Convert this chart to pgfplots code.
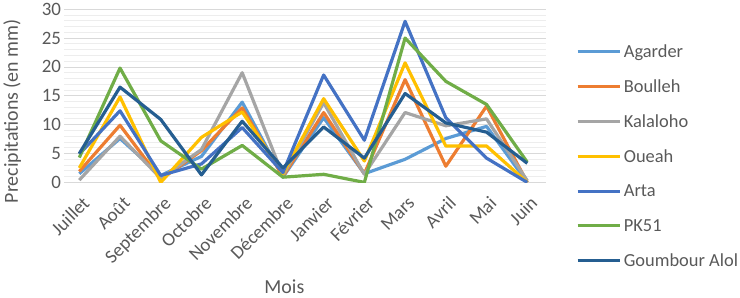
\documentclass[border=0pt]{standalone}
\usepackage{pgfplots}
\pgfplotsset{compat=1.18}
\usepackage{fontspec}
\setmainfont{Carlito}
\definecolor{cA}{HTML}{5B9BD5}
\definecolor{cB}{HTML}{ED7D31}
\definecolor{cC}{HTML}{A5A5A5}
\definecolor{cD}{HTML}{FFC000}
\definecolor{cE}{HTML}{4472C4}
\definecolor{cF}{HTML}{70AD47}
\definecolor{cG}{HTML}{255E91}
\definecolor{txt}{HTML}{595959}
\begin{document}
\begin{tikzpicture}[x=1pt,y=1pt]
\path (0,0) rectangle (740,295);
\begin{axis}[
  at={(63pt,115pt)}, anchor=south west,
  scale only axis, width=484pt, height=174pt,
  xmin=-0.37, xmax=11.46, ymin=0, ymax=30,
  xtick={0,...,11},
  xticklabels={Juillet,Août,Septembre,Octobre,Novembre,Décembre,Janvier,Février,Mars,Avril,Mai,Juin},
  ytick={0,5,...,30}, minor ytick={0,1,...,30},
  ymajorgrids, yminorgrids, xmajorgrids=false,
  major grid style={draw=black!15, line width=0.8pt},
  minor grid style={draw=black!7, line width=0.8pt},
  axis line style={draw=none},
  major tick length=0pt, minor tick length=0pt,
  tick label style={font=\fontsize{19}{21}\selectfont, text=txt},
  /pgf/number format/assume math mode=true,
  xticklabel style={rotate=45, anchor=north east, inner sep=2pt, xshift=-5.7pt, yshift=-8.5pt},
  yticklabel style={inner sep=3pt},
  xlabel={Mois}, ylabel={Precipitations (en mm)},
  label style={font=\fontsize{20}{22}\selectfont, text=txt},
  xlabel style={at={(axis description cs:0.457,-0.603)}, anchor=center},
  ylabel style={at={(axis description cs:-0.108,0.41)}, anchor=center, rotate=0},
  legend style={at={(axis description cs:1.062,0.81)}, anchor=north west, draw=none, fill=none,
    font=\fontsize{18.5}{20}\selectfont, text=txt, row sep=17pt, inner sep=0pt},
  legend cell align=left,
  legend image code/.code={\draw[#1, line width=3pt] (-2pt,0pt) -- (41pt,0pt);},
  every axis plot/.append style={line width=3.2pt, line join=round, mark=none},
]
\addplot[cA] coordinates {(0,1.5)(1,7.6)(2,1.2)(3,4.5)(4,13.9)(5,0.9)(6,11.2)(7,1.5)(8,4.0)(9,7.6)(10,9.7)(11,0)};
\addlegendentry{Agarder}
\addplot[cB] coordinates {(0,1.9)(1,9.9)(2,0.5)(3,5.5)(4,12.9)(5,1.0)(6,12.1)(7,1.5)(8,17.8)(9,2.8)(10,13.2)(11,0)};
\addlegendentry{Boulleh}
\addplot[cC] coordinates {(0,0.4)(1,8.0)(2,0.7)(3,5.7)(4,19.0)(5,1.2)(6,13.8)(7,1.4)(8,12.1)(9,9.8)(10,11.0)(11,0.3)};
\addlegendentry{Kalaloho}
\addplot[cD] coordinates {(0,2.5)(1,14.8)(2,0)(3,7.8)(4,12.2)(5,1.5)(6,14.5)(7,3.7)(8,20.7)(9,6.3)(10,6.3)(11,0)};
\addlegendentry{Oueah}
\addplot[cE] coordinates {(0,4.9)(1,12.4)(2,1.2)(3,3.2)(4,9.5)(5,1.7)(6,18.6)(7,7.3)(8,27.9)(9,11.2)(10,4.2)(11,0)};
\addlegendentry{Arta}
\addplot[cF] coordinates {(0,4.3)(1,19.8)(2,7.2)(3,2.3)(4,6.4)(5,0.9)(6,1.4)(7,0)(8,25.0)(9,17.5)(10,13.5)(11,3.5)};
\addlegendentry{PK51}
\addplot[cG] coordinates {(0,5.0)(1,16.5)(2,10.9)(3,1.3)(4,10.6)(5,2.5)(6,9.6)(7,4.2)(8,15.4)(9,10.3)(10,8.7)(11,3.3)};
\addlegendentry{Goumbour Alol}
\end{axis}
\end{tikzpicture}
\end{document}
